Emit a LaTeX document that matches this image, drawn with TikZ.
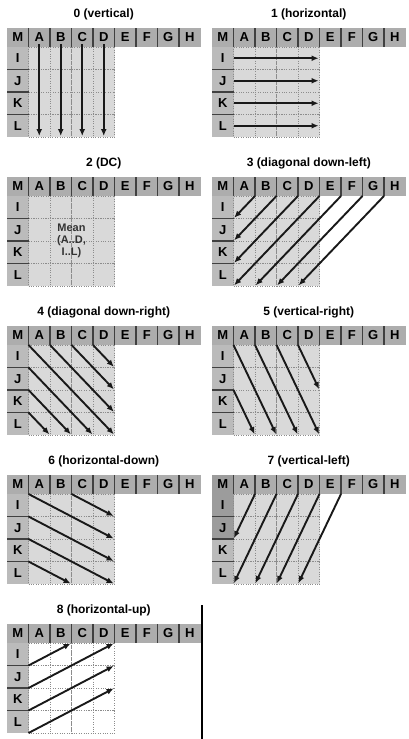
\documentclass[tikz,border=0pt]{standalone}
\usepackage{fontspec}
\setmainfont{Liberation Sans}
\usetikzlibrary{arrows.meta}
\definecolor{HdrGray}{HTML}{ADADAD}
\definecolor{SideGray}{HTML}{BBBBBB}
\definecolor{DarkSide}{HTML}{9C9C9C}
\definecolor{BlockGray}{HTML}{D9D9D9}

% one 4x4 block with its neighbour samples M, A..H, I..L
\newcommand{\PredGrid}[5]{%
  \node[ttl] (#1-t) at ({#2+96.75},{#3-14}) {#5};
  \foreach \c [count=\i from 0] in {M,A,B,C,D,E,F,G,H}
    \node[hdrcell,#1-\c/.try] (#1-\c) at ({#2+\i*21.5},#3) {\c};
  \foreach \r [count=\j from 0] in {I,J,K,L} {
    \node[sidecell,#1-\r/.try] (#1-\r) at (#2,{#3+19+\j*22.5}) {\r};
    \foreach \c [count=\i from 1] in {A,B,C,D}
      \node[blkcell,fill=#4] (#1-\r\c) at ({#2+\i*21.5},{#3+19+\j*22.5}) {};
  }
  \foreach \c in {A,B,C,D,E,F,G,H}
    \draw[sepline] (#1-\c.north west) -- (#1-\c.south west);
  \foreach \r in {J,K,L}
    \draw[sepline] (#1-\r.north west) -- (#1-\r.north east);
}

\tikzset{
  hdrcell/.style={fill=HdrGray, minimum width=21.5pt, minimum height=19pt,
    inner sep=0pt, outer sep=0pt, anchor=north west,
    font=\bfseries\fontsize{13}{13}\selectfont},
  sidecell/.style={hdrcell, fill=SideGray, minimum height=22.5pt},
  blkcell/.style={draw=black!45, dotted, minimum width=21.5pt, minimum height=22.5pt,
    inner sep=0pt, outer sep=0pt, anchor=north west},
  sepline/.style={black!75, line width=1.2pt},
  ttl/.style={font=\bfseries\fontsize{12}{12}\selectfont},
  parr/.style={-{Latex[length=7pt,width=6pt]}, line width=1.9pt, black!90, shorten >=1pt},
  % darker samples used by mode 7
  p7-M/.style={fill=DarkSide}, p7-I/.style={fill=DarkSide}, p7-J/.style={fill=DarkSide},
}

\begin{document}
\begin{tikzpicture}[x=1pt, y=-1pt]
  \useasboundingbox (0,0) rectangle (409,739);

  \PredGrid{p0}{7}{28}{BlockGray}{0 (vertical)}
  \PredGrid{p1}{212}{28}{BlockGray}{1 (horizontal)}
  \PredGrid{p2}{7}{177}{BlockGray}{2 (DC)}
  \PredGrid{p3}{212}{177}{BlockGray}{3 (diagonal down-left)}
  \PredGrid{p4}{7}{326}{BlockGray}{4 (diagonal down-right)}
  \PredGrid{p5}{212}{326}{BlockGray}{5 (vertical-right)}
  \PredGrid{p6}{7}{475}{BlockGray}{6 (horizontal-down)}
  \PredGrid{p7}{212}{475}{BlockGray}{7 (vertical-left)}
  \PredGrid{p8}{7}{624}{white}{8 (horizontal-up)}

  % 0
  \foreach \c in {A,B,C,D}
    \draw[parr] ([yshift=3pt]p0-\c.south) -- (p0-L\c.south);
  % 1
  \foreach \r/\e in {I/ID,J/JD,K/KD,L/LD}
    \draw[parr] (p1-\r.east) -- (p1-\e.east);
  % 2
  \node[align=center, text=black!80, font=\bfseries\fontsize{11}{12}\selectfont]
    (p2-mean) at (p2-JB.south east) {Mean\\(A..D,\\I..L)};
  % 3
  \foreach \s/\e in {A/I,B/J,C/K,D/L,E/LA,F/LB,G/LC}
    \draw[parr] (p3-\s.south east) -- (p3-\e.south east);
  % 4
  \foreach \s/\e in {M/LD,A/KD,B/JD,C/ID,I/LC,J/LB,K/LA}
    \draw[parr] (p4-\s.south east) -- (p4-\e.south east);
  % 5
  \foreach \s/\e in {M/LB,A/LC,B/LD,C/JD,J/LA}
    \draw[parr] (p5-\s.south east) -- (p5-\e.south east);
  % 6
  \foreach \s/\e in {M/JD,B/ID,I/KD,J/LD,K/LB}
    \draw[parr] (p6-\s.south east) -- (p6-\e.south east);
  % 7
  \foreach \s/\e in {A/J,B/L,C/LA,D/LB,E/LC}
    \draw[parr] (p7-\s.south east) -- (p7-\e.south east);
  % 8
  \foreach \s/\e in {I/B,J/D,K/ID,L/JD}
    \draw[parr] (p8-\s.south east) -- (p8-\e.south east);

  \coordinate (p8-rt) at (202,605);
  \coordinate (p8-rb) at (202,739);
  \draw[line width=2pt] (p8-rt) -- (p8-rb);
\end{tikzpicture}
\end{document}
